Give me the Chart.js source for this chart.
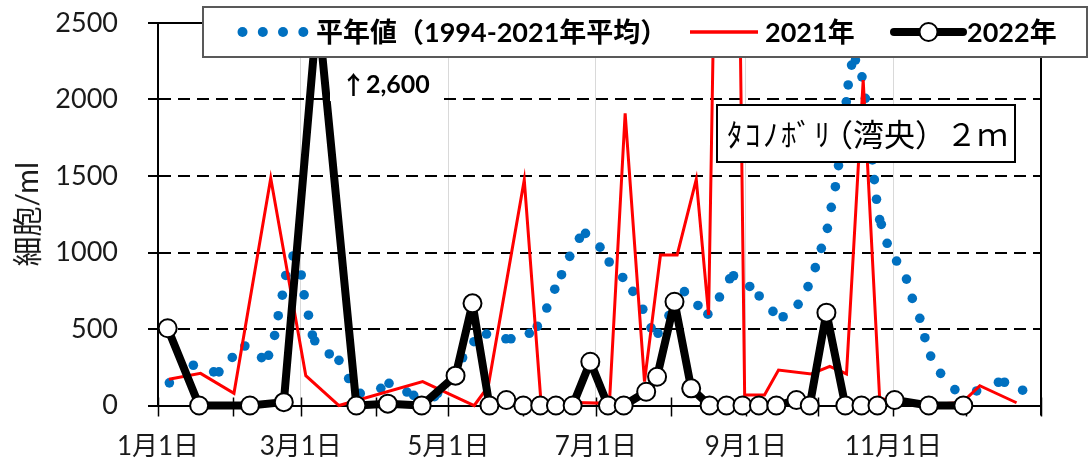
<!DOCTYPE html>
<html>
<head>
<meta charset="utf-8">
<script src="https://cdn.jsdelivr.net/npm/chart.js@4"></script>
<style>
  html, body { margin: 0; padding: 0; background: #fff; }
  #wrap { width: 1088px; height: 469px; }
</style>
</head>
<body>
<div id="wrap"><canvas id="cellChart" width="1088" height="469"></canvas></div>
<script>
// x = days since Jan 1
const monthStarts = [0, 31, 59, 90, 120, 151, 181, 212, 243, 273, 304, 334, 365];
const monthLabels = ['1月1日', '', '3月1日', '', '5月1日', '', '7月1日', '', '9月1日', '', '11月1日', '', ''];

// 平年値 (1994-2021年平均) - dotted series
const normalDays = [4.7, 14.6, 23.0, 25.2, 30.7, 35.9, 42.8, 45.7, 48.2, 49.7, 51.4, 52.8, 55.8, 59.2, 60.4, 62.2, 63.8, 64.8,
  70.8, 74.8, 78.8, 83.6, 92.1, 95.5, 102.9, 105.7, 114.3, 115.6, 125.9, 130.6, 135.8, 143.8, 145.9, 153.5, 156.8,
  160.7, 164.0, 166.8, 170.2, 174.2, 176.7, 182.7, 186.5, 192.1, 196.3, 200.4, 203.8, 206.7, 211.2, 217.6, 223.2,
  227.3, 232.1, 236.3, 237.9, 244.6, 248.5, 254.2, 258.4, 264.6, 268.7, 271.7, 274.2, 276.7, 278.3, 280.0, 281.3,
  282.4, 283.5, 284.5, 285.3, 286.7, 288.3, 291.0, 292.4, 293.5, 294.5, 295.3, 296.1, 297.0, 298.3, 299.0, 301.4,
  305.3, 309.4, 311.8, 314.9, 317.0, 319.4, 323.5, 329.4, 338.4, 347.4, 349.9, 357.4];
const normalValues = [148, 263, 220, 220, 314, 389, 313, 328, 458, 587, 721, 850, 977, 853, 723, 590, 461, 423,
  337, 295, 176, 79, 112, 145, 88, 66, 58, 80, 312, 417, 467, 436, 436, 472, 518,
  637, 760, 855, 975, 1093, 1125, 1035, 938, 837, 746, 629, 508, 472, 588, 744, 654,
  597, 709, 828, 848, 778, 716, 615, 580, 661, 777, 901, 1027, 1158, 1295, 1430, 1568,
  1700, 1840, 1985, 2095, 2225, 2258, 2148, 2008, 1870, 1740, 1605, 1476, 1348, 1215, 1184, 1060,
  944, 826, 700, 570, 443, 323, 210, 104, 95, 152, 152, 100];

// 2021年
const days2021 = [4.5, 17.6, 31.4, 46.6, 61.1, 74.8, 109.4, 130.7, 136.5, 151.4, 158.3, 186.6, 193.1, 201.1, 207.7,
  214.6, 222.5, 227.6, 236.0, 242.5, 250.7, 256.5, 270.0, 277.7, 284.6, 291.5, 298.3, 313.0, 332.5, 339.7, 354.9];
const values2021 = [171, 210, 80, 1485, 195, 0, 156, 0, 125, 1474, 25, 14, 1910, 156, 984,
  984, 1478, 592, 8500, 69, 69, 232, 206, 256, 206, 2127, 47, 0, 20, 129, 18];

// 2022年
const days2022 = [4, 17, 38, 52, 66, 82, 95, 109, 123, 130, 137, 144, 151, 158, 164.5, 171.4, 178.7, 186, 192.5,
  201.8, 206.3, 213.5, 220.4, 228, 235, 241.6, 248.4, 255.6, 263.9, 269.4, 276.3, 284.1, 290.8, 297.4, 304.5, 318.6, 332.9];
const values2022 = [505, 0, 0, 22, 2600, 0, 12, 0, 195, 668, 0, 36, 0, 0, 0, 0, 286, 0, 0,
  90, 188, 678, 112, 0, 0, 0, 0, 0, 36, 0, 607, 0, 0, 0, 36, 0, 0];

const FONT = 'Lato, "Noto Sans CJK JP", sans-serif';
const TEXT = '#1a1a1a';

function points(xs, ys) {
  return xs.map((d, i) => ({ x: d, y: ys[i] }));
}

// frame, month ticks, legend, notes
const overlayPlugin = {
  id: 'overlay',
  beforeDatasetsDraw(chart) {
    const ctx = chart.ctx;
    const a = chart.chartArea;
    const xs = chart.scales.x;
    ctx.save();
    ctx.strokeStyle = '#000';
    ctx.lineWidth = 2;
    ctx.beginPath();
    ctx.moveTo(a.left, a.top);
    ctx.lineTo(a.right, a.top);
    ctx.lineTo(a.right, a.bottom + 10);
    ctx.stroke();
    ctx.lineWidth = 1.5;
    monthStarts.forEach(d => {
      const px = Math.round(xs.getPixelForValue(d)) + 0.5;
      ctx.beginPath();
      ctx.moveTo(px, a.bottom - 8);
      ctx.lineTo(px, a.bottom + 11);
      ctx.stroke();
    });
    ctx.restore();
  },
  afterDraw(chart) {
    const ctx = chart.ctx;
    const ds = chart.data.datasets;
    ctx.save();

    // legend
    ctx.fillStyle = '#fff';
    ctx.fillRect(203, 7, 884, 50);
    ctx.strokeStyle = '#595959';
    ctx.lineWidth = 2;
    ctx.strokeRect(203, 7, 884, 50);
    const ly = 32;
    ctx.fillStyle = ds[0].pointBackgroundColor;
    [242.5, 262.8, 283, 303.3].forEach(cx => {
      ctx.beginPath();
      ctx.arc(cx, ly, 5, 0, Math.PI * 2);
      ctx.fill();
    });
    ctx.strokeStyle = ds[1].borderColor;
    ctx.lineWidth = 3.5;
    ctx.beginPath();
    ctx.moveTo(690, ly);
    ctx.lineTo(758, ly);
    ctx.stroke();
    ctx.strokeStyle = ds[2].borderColor;
    ctx.lineWidth = 8;
    ctx.lineCap = 'round';
    ctx.beginPath();
    ctx.moveTo(894, ly);
    ctx.lineTo(963, ly);
    ctx.stroke();
    ctx.lineCap = 'butt';
    ctx.fillStyle = '#fff';
    ctx.lineWidth = 2;
    ctx.beginPath();
    ctx.arc(928.5, ly, 9, 0, Math.PI * 2);
    ctx.fill();
    ctx.stroke();

    ctx.fillStyle = '#000';
    ctx.textBaseline = 'middle';
    ctx.textAlign = 'left';
    ctx.font = 'bold 27px ' + FONT;
    ctx.fillText(ds[0].label, 316, ly + 1);
    ctx.fillText(ds[1].label, 765, ly + 1);
    ctx.fillText(ds[2].label, 967, ly + 1);

    // peak note
    ctx.fillStyle = '#fff';
    ctx.fillRect(330, 63, 107, 38);
    ctx.fillStyle = '#000';
    ctx.font = 'bold 25px "Noto Sans CJK JP"';
    ctx.fillText('↑', 341, 84);
    ctx.font = 'bold 25px ' + FONT;
    ctx.fillText('2,600', 366, 85);

    // station box
    ctx.fillStyle = '#fff';
    ctx.fillRect(717, 105, 298, 57);
    ctx.strokeStyle = '#000';
    ctx.lineWidth = 2;
    ctx.strokeRect(717, 105, 298, 57);
    ctx.fillStyle = '#000';
    ctx.font = '31px "Noto Sans CJK JP"';
    ctx.letterSpacing = '2.5px';
    ctx.fillText('ﾀｺﾉﾎﾞﾘ', 727, 134);
    ctx.letterSpacing = '0px';
    ctx.fillText('（湾央）２ｍ', 822, 134);

    ctx.restore();
  }
};

const overflow = { left: 20, top: 16, right: 20, bottom: 20 };

const chart = new Chart(document.getElementById('cellChart'), {
  type: 'line',
  data: {
    datasets: [
      {
        label: '平年値（1994-2021年平均）',
        data: points(normalDays, normalValues),
        showLine: false,
        pointRadius: 4.8,
        pointBorderWidth: 0,
        pointBackgroundColor: '#0070C0',
        order: 2
      },
      {
        label: '2021年',
        data: points(days2021, values2021),
        borderColor: '#FF0000',
        borderWidth: 3,
        pointRadius: 0,
        tension: 0,
        clip: overflow,
        order: 1
      },
      {
        label: '2022年',
        data: points(days2022, values2022),
        borderColor: '#000000',
        borderWidth: 8,
        borderJoinStyle: 'round',
        pointRadius: 9,
        pointBorderWidth: 2,
        pointBackgroundColor: '#ffffff',
        pointBorderColor: '#000000',
        tension: 0,
        clip: overflow,
        order: 0
      }
    ]
  },
  options: {
    responsive: false,
    animation: false,
    devicePixelRatio: 1,
    layout: { padding: { left: 0, top: 23, right: 47, bottom: 0 } },
    plugins: {
      legend: { display: false },
      tooltip: { enabled: false }
    },
    scales: {
      x: {
        type: 'linear',
        min: 0,
        max: 365,
        afterBuildTicks: s => { s.ticks = monthStarts.map(v => ({ value: v })); },
        afterFit: s => { s.height = 63.5; s.paddingLeft = 0; s.paddingRight = 0; },
        grid: {
          color: c => (c.index % 2 === 0 && c.index > 0 && c.index < 12) ? '#D9D9D9' : 'rgba(0,0,0,0)',
          lineWidth: 1,
          drawTicks: false
        },
        border: { color: '#000', width: 2 },
        ticks: {
          autoSkip: false,
          maxRotation: 0,
          minRotation: 0,
          padding: 26,
          color: TEXT,
          font: { family: FONT, size: 26 },
          callback: (v, i) => monthLabels[i]
        }
      },
      y: {
        min: 0,
        max: 2500,
        afterFit: s => { s.width = 158; s.paddingTop = 0; s.paddingBottom = 0; },
        grid: {
          color: c => (c.tick.value === 0 || c.tick.value === 2500) ? 'rgba(0,0,0,0)' : '#000',
          lineWidth: 2,
          tickLength: 10,
          tickColor: '#000',
          tickWidth: 2
        },
        border: { color: '#000', width: 2, dash: [12, 7] },
        ticks: {
          stepSize: 500,
          padding: 30,
          color: TEXT,
          font: { family: FONT, size: 27 },
          callback: v => String(v)
        },
        title: {
          display: true,
          text: '細胞/ml',
          color: TEXT,
          font: { family: FONT, size: 30 },
          padding: { top: 10, bottom: 0 }
        }
      }
    }
  },
  plugins: [overlayPlugin]
});
</script>
</body>
</html>
